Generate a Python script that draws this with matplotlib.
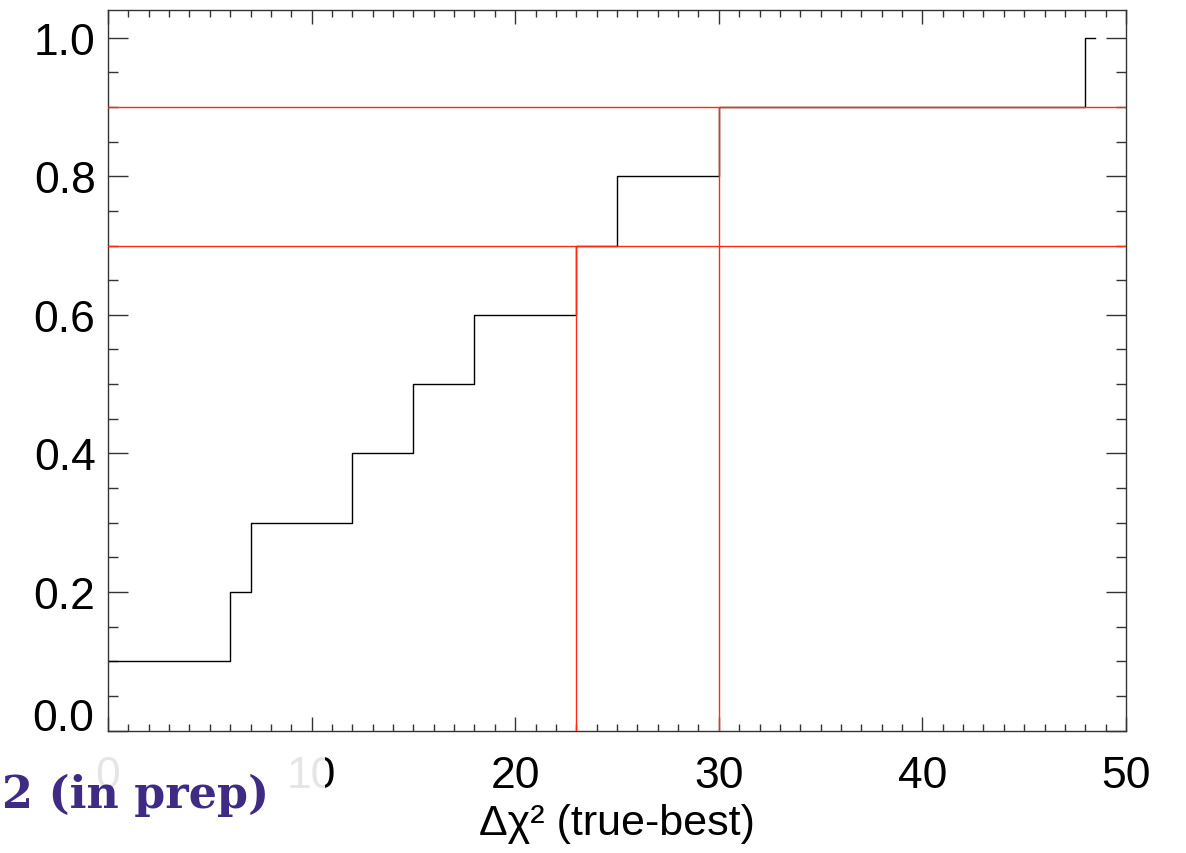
import matplotlib
matplotlib.use("Agg")
import matplotlib.pyplot as plt
import matplotlib.transforms as mtransforms
from matplotlib.patches import Rectangle
from matplotlib.ticker import MultipleLocator

# Cumulative fraction of realisations vs. chi-square difference (true - best)
step_x = [0, 6, 7, 12, 15, 18, 23, 25, 30, 48]
cum_frac = [0.1, 0.2, 0.3, 0.4, 0.5, 0.6, 0.7, 0.8, 0.9, 1.0]
last_x = 48.5

# Confidence levels and where the cumulative curve crosses them
conf_levels = [0.7, 0.9]
conf_dchi2 = [23, 30]

x_ticks = [0, 10, 20, 30, 40, 50]
y_ticks = [0.0, 0.2, 0.4, 0.6, 0.8, 1.0]
x_label = "Δχ² (true-best)"
note_text = "2 (in prep)"

plt.rcParams["font.family"] = ["Liberation Sans", "DejaVu Sans"]

W, H = 1186, 854
fig = plt.figure(figsize=(W / 100, H / 100), dpi=100)
ax = fig.add_axes([108 / W, 1 - 731.5 / H, (1126 - 108) / W, (731.5 - 11) / H])

xmin, xmax = 0, 50
ymin, ymax = 0.0, 1.04
ax.set_xlim(xmin, xmax)
ax.set_ylim(ymin, ymax)

red = "#ff2a10"
ax.step(step_x + [last_x], cum_frac + [cum_frac[-1]], where="post",
        color="black", lw=1.0, zorder=2)
for lev, dx in zip(conf_levels, conf_dchi2):
    ax.axhline(lev, color=red, lw=1.0, zorder=3)
    ax.vlines(dx, ymin, lev, color=red, lw=1.0, zorder=3)

ax.set_xticks(x_ticks)
ax.set_yticks(y_ticks)
ax.xaxis.set_minor_locator(MultipleLocator(1))
ax.yaxis.set_minor_locator(MultipleLocator(0.05))
# the bottom label sits on the axis line rather than centred on its tick
ylabels = [f"{v:.1f}" for v in y_ticks]
ax.set_yticklabels([""] + ylabels[1:])

ax.tick_params(axis="both", which="both", direction="in", top=True, right=True,
               color="#333333", width=1.0, labelsize=32)
ax.tick_params(axis="x", which="major", length=10, pad=18)
ax.tick_params(axis="x", which="minor", length=5)
ax.tick_params(axis="y", which="major", length=14.5, pad=9)
ax.tick_params(axis="y", which="minor", length=7.2)
for sp in ax.spines.values():
    sp.set_color("#333333")
    sp.set_linewidth(1.0)

ylab_tr = mtransforms.blended_transform_factory(ax.transAxes, ax.transData)
ax.text(-14 / 1018, y_ticks[0], ylabels[0], transform=ylab_tr, ha="right",
        va="baseline", fontsize=32)

ax.set_xlabel(x_label, fontsize=31, labelpad=5)

# translucent white panel over the lower-left corner, with the note on top
fig.patches.append(Rectangle((0, 1 - 835 / H), 325 / W, (835 - 745) / H,
                             transform=fig.transFigure, facecolor="white",
                             alpha=0.9, edgecolor="none", zorder=5))
fig.text(2 / W, 1 - 808 / H, note_text, fontsize=32, fontweight="bold",
         family=["DejaVu Serif"], color="#3f2a84", ha="left",
         va="baseline", zorder=6)

fig.savefig("out.png", dpi=100)
